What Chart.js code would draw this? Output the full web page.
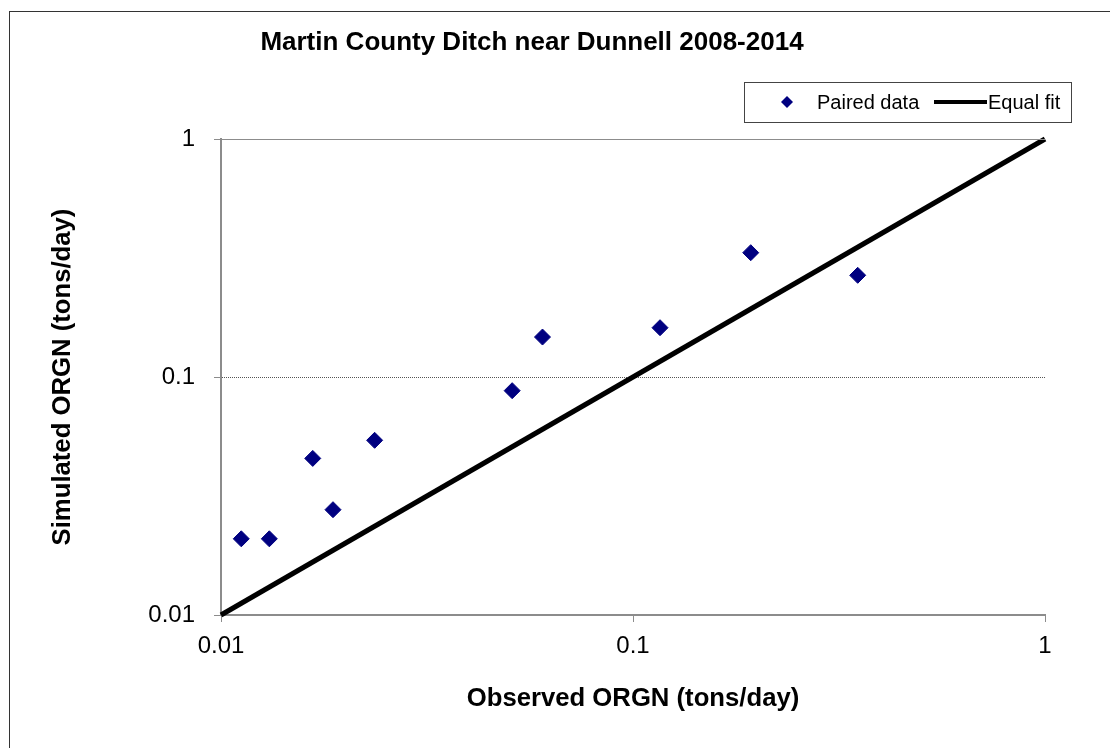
<!DOCTYPE html>
<html>
<head>
<meta charset="utf-8">
<script src="https://cdn.jsdelivr.net/npm/chart.js@4.4.1/dist/chart.umd.min.js"></script>
<style>
  body { margin: 0; background: #fff; }
  #wrap { width: 1110px; height: 748px; position: relative; }
</style>
</head>
<body>
<div id="wrap"><canvas id="myChart"></canvas></div>
<script>
// values
const observed = [0.0112, 0.0131, 0.0167, 0.0187, 0.0236, 0.0509, 0.0603, 0.1163, 0.1931, 0.3511];
const simulated = [0.0209, 0.0209, 0.0455, 0.0277, 0.0542, 0.0876, 0.1472, 0.1611, 0.3329, 0.2675];
const fitLine = [0.01, 1];
const tickValues = [0.01, 0.1, 1];
const chartTitle = 'Martin County Ditch near Dunnell 2008-2014';

document.addEventListener('DOMContentLoaded', function() {
    const paired = observed.map((x, i) => ({ x: x, y: simulated[i] }));
    const equal = fitLine.map(v => ({ x: v, y: v }));

    // title, outer frame, top line and legend box
    const decor = {
        id: 'decor',
        afterDraw(chart) {
            const ctx = chart.ctx;
            const area = chart.chartArea;
            ctx.save();
            // outer frame (only top/left visible in the picture)
            ctx.strokeStyle = '#333';
            ctx.lineWidth = 1;
            ctx.strokeRect(9.5, 11.5, 1200, 800);
            // line at y = 1
            ctx.strokeStyle = '#8c8c8c';
            ctx.beginPath();
            ctx.moveTo(area.left, area.top + 0.5);
            ctx.lineTo(area.right, area.top + 0.5);
            ctx.stroke();
            // title
            ctx.fillStyle = '#000';
            ctx.font = 'bold 26px "Liberation Sans", Arial, sans-serif';
            ctx.textAlign = 'center';
            ctx.textBaseline = 'alphabetic';
            ctx.fillText(chartTitle, 532, 50);
            // legend
            ctx.fillStyle = '#fff';
            ctx.fillRect(744, 82, 328, 41);
            ctx.strokeStyle = '#444';
            ctx.strokeRect(744.5, 82.5, 327, 40);
            const ds = chart.data.datasets;
            ctx.fillStyle = '#000080';
            ctx.beginPath();
            ctx.moveTo(787, 96); ctx.lineTo(793, 102); ctx.lineTo(787, 108); ctx.lineTo(781, 102);
            ctx.closePath();
            ctx.fill();
            ctx.fillStyle = '#000';
            ctx.font = '20px "Liberation Sans", Arial, sans-serif';
            ctx.textAlign = 'left';
            ctx.textBaseline = 'middle';
            ctx.fillText(ds[0].label, 817, 103);
            ctx.strokeStyle = '#000';
            ctx.lineWidth = 4;
            ctx.beginPath();
            ctx.moveTo(934, 102); ctx.lineTo(987, 102);
            ctx.stroke();
            ctx.fillText(ds[1].label, 988, 103);
            ctx.restore();
        }
    };

    const axisFont = { family: '"Liberation Sans", Arial, sans-serif', size: 24 };
    const titleFont = { family: '"Liberation Sans", Arial, sans-serif', size: 25.7, weight: 'bold' };

    const ctx = document.getElementById('myChart').getContext('2d');
    new Chart(ctx, {
        type: 'scatter',
        data: {
            datasets: [{
                label: 'Paired data',
                data: paired,
                pointStyle: 'rectRot',
                pointRadius: 8,
                pointHoverRadius: 8,
                backgroundColor: '#000080',
                borderColor: '#000080',
                borderWidth: 1,
                order: 1
            }, {
                type: 'line',
                label: 'Equal fit',
                data: equal,
                borderColor: '#000',
                borderWidth: 5,
                pointRadius: 0,
                fill: false,
                clip: 6,
                order: 2
            }]
        },
        options: {
            responsive: true,
            maintainAspectRatio: false,
            animation: false,
            layout: { padding: { left: 0, right: 65, top: 139, bottom: 0 } },
            plugins: {
                legend: { display: false },
                title: { display: false },
                tooltip: { enabled: false }
            },
            scales: {
                x: {
                    type: 'logarithmic',
                    min: 0.01,
                    max: 1,
                    afterBuildTicks: s => { s.ticks = tickValues.map(v => ({ value: v })); },
                    afterFit: s => { s.height = 133; },
                    grid: { drawOnChartArea: false, tickLength: 7, tickColor: '#8c8c8c', lineWidth: 1 },
                    border: { color: '#8c8c8c', width: 2 },
                    ticks: {
                        font: axisFont,
                        color: '#000',
                        padding: 10,
                        maxRotation: 0,
                        callback: v => String(v)
                    },
                    title: {
                        display: true,
                        text: 'Observed ORGN (tons/day)',
                        font: titleFont,
                        color: '#000',
                        padding: { top: 0, bottom: 34 }
                    }
                },
                y: {
                    type: 'logarithmic',
                    min: 0.01,
                    max: 1,
                    afterBuildTicks: s => { s.ticks = tickValues.map(v => ({ value: v })); },
                    afterFit: s => { s.width = 221; },
                    grid: {
                        tickLength: 7,
                        tickColor: '#8c8c8c',
                        color: c => (c.tick && c.tick.value === 0.1) ? '#555' : 'rgba(0,0,0,0)',
                        lineWidth: 1
                    },
                    border: { color: '#8c8c8c', width: 2, dash: [1, 1] },
                    ticks: {
                        font: axisFont,
                        color: '#000',
                        padding: 19,
                        callback: v => String(v)
                    },
                    title: {
                        display: true,
                        text: 'Simulated ORGN (tons/day)',
                        font: titleFont,
                        color: '#000',
                        padding: { top: 47, bottom: 0 }
                    }
                }
            }
        },
        plugins: [decor]
    });
});
</script>
</body>
</html>
